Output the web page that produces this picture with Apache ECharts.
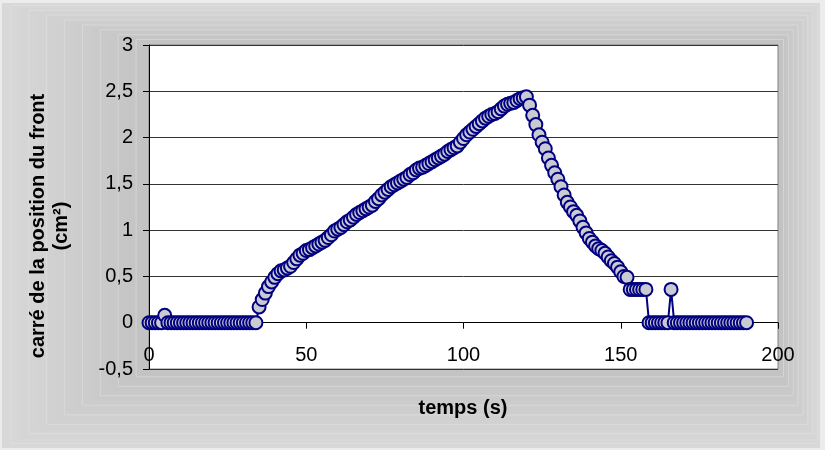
<!DOCTYPE html>
<html>
<head>
<meta charset="utf-8">
<script src="https://cdn.jsdelivr.net/npm/echarts@6/dist/echarts.min.js"></script>
<style>
  html, body { margin: 0; padding: 0; background: #fff; }
  #chart { width: 825px; height: 450px; }
</style>
</head>
<body>
<div id="chart"></div>
<script>
// temps (s)
const temps = [
  0, 1, 2, 3, 4, 5, 6, 7, 8, 9, 10, 11, 12, 13, 14, 15, 16, 17, 18, 19,
  20, 21, 22, 23, 24, 25, 26, 27, 28, 29, 30, 31, 32, 33, 34, 35, 36, 37, 38, 39,
  40, 41, 42, 43, 44, 45, 46, 47, 48, 49, 50, 51, 52, 53, 54, 55, 56, 57, 58, 59,
  60, 61, 62, 63, 64, 65, 66, 67, 68, 69, 70, 71, 72, 73, 74, 75, 76, 77, 78, 79,
  80, 81, 82, 83, 84, 85, 86, 87, 88, 89, 90, 91, 92, 93, 94, 95, 96, 97, 98, 99,
  100, 101, 102, 103, 104, 105, 106, 107, 108, 109, 110, 111, 112, 113, 114, 115, 116, 117, 118, 119,
  120, 121, 122, 123, 124, 125, 126, 127, 128, 129, 130, 131, 132, 133, 134, 135, 136, 137, 138, 139,
  140, 141, 142, 143, 144, 145, 146, 147, 148, 149, 150, 151, 152, 153, 154, 155, 156, 157, 158, 159,
  160, 161, 162, 163, 164, 165, 166, 167, 168, 169, 170, 171, 172, 173, 174, 175, 176, 177, 178, 179,
  180, 181, 182, 183, 184, 185, 186, 187, 188, 189, 190
];

// carré de la position du front (cm²)
const carre = [
  0, 0, 0, 0, 0, 0.08, 0, 0, 0, 0,
  0, 0, 0, 0, 0, 0, 0, 0, 0, 0,
  0, 0, 0, 0, 0, 0, 0, 0, 0, 0,
  0, 0, 0, 0, 0, 0.17, 0.25, 0.32, 0.39, 0.44,
  0.49, 0.53, 0.56, 0.57, 0.59, 0.61, 0.65, 0.69, 0.73, 0.75,
  0.78, 0.79, 0.81, 0.83, 0.85, 0.87, 0.89, 0.92, 0.95, 0.99,
  1.01, 1.03, 1.06, 1.09, 1.11, 1.14, 1.17, 1.19, 1.21, 1.23,
  1.25, 1.27, 1.31, 1.34, 1.38, 1.41, 1.44, 1.47, 1.49, 1.51,
  1.53, 1.55, 1.57, 1.60, 1.62, 1.65, 1.67, 1.68, 1.70, 1.72,
  1.74, 1.76, 1.78, 1.80, 1.82, 1.85, 1.87, 1.89, 1.91, 1.95,
  1.99, 2.03, 2.06, 2.09, 2.12, 2.15, 2.18, 2.21, 2.23, 2.25,
  2.26, 2.28, 2.31, 2.34, 2.36, 2.37, 2.38, 2.40, 2.42, 2.43,
  2.44, 2.35, 2.24, 2.14, 2.03, 1.95, 1.88, 1.78, 1.70, 1.62,
  1.55, 1.47, 1.38, 1.30, 1.25, 1.20, 1.16, 1.10, 1.03, 0.97,
  0.91, 0.87, 0.83, 0.80, 0.78, 0.75, 0.71, 0.67, 0.64, 0.60,
  0.55, 0.50, 0.49, 0.36, 0.36, 0.36, 0.36, 0.36, 0.36, 0,
  0, 0, 0, 0, 0, 0, 0.36, 0, 0, 0,
  0, 0, 0, 0, 0, 0, 0, 0, 0, 0,
  0, 0, 0, 0, 0, 0, 0, 0, 0, 0,
  0
];

const xTicks = [0, 50, 100, 150, 200];
const yTicks = [-0.5, 0, 0.5, 1, 1.5, 2, 2.5, 3];

const chart = echarts.init(document.getElementById('chart'));

// fond gris en dégradé (rectangles emboîtés, style Excel)
const fond = [{
  type: 'rect', z: -10, silent: true,
  shape: { x: 0, y: 0, width: 825, height: 450 },
  style: { fill: '#ececec' }
}];
const nb = 16;
for (let i = 0; i < nb; i++) {
  const f = i / nb;
  const x0 = 2 + f * 143, y0 = 3 + f * 39;
  const x1 = 820 - f * 39, y1 = 448 - f * 76;
  const g = Math.round(0xd8 - f * 0x16);
  fond.push({
    type: 'rect', z: -10 + i * 0.01, silent: true,
    shape: { x: x0, y: y0, width: x1 - x0, height: y1 - y0 },
    style: { fill: 'rgb(' + g + ',' + g + ',' + g + ')', stroke: i % 2 ? 'rgba(230,230,230,0.5)' : null, lineWidth: 1 }
  });
}

const option = {
  animation: false,
  backgroundColor: '#fff',
  textStyle: { fontFamily: 'Liberation Sans, Arial, sans-serif' },
  graphic: fond.concat([
    {
      type: 'text', x: 50, y: 226, rotation: Math.PI / 2,
      style: {
        text: 'carré de la position du front\n(cm²)',
        align: 'center', verticalAlign: 'middle',
        font: 'bold 20px "Liberation Sans", Arial, sans-serif',
        fill: '#000', lineHeight: 23
      }
    },
    {
      type: 'text', x: 463, y: 408,
      style: {
        text: 'temps (s)',
        align: 'center', verticalAlign: 'middle',
        font: 'bold 20px "Liberation Sans", Arial, sans-serif',
        fill: '#000'
      }
    }
  ]),
  grid: {
    left: 149, right: 47, top: 45, bottom: 81,
    show: true, backgroundColor: '#fff',
    borderColor: '#808080', borderWidth: 1
  },
  xAxis: {
    type: 'value',
    min: xTicks[0], max: xTicks[xTicks.length - 1], interval: 50,
    axisLine: { show: true, onZero: true, lineStyle: { color: '#000', width: 1 } },
    axisTick: { show: true, length: 6, lineStyle: { color: '#000' } },
    axisLabel: { margin: -24, fontSize: 20, color: '#000' },
    splitLine: { show: false }
  },
  yAxis: {
    type: 'value',
    min: yTicks[0], max: yTicks[yTicks.length - 1], interval: 0.5,
    axisLine: { show: true, lineStyle: { color: '#000', width: 1 } },
    axisTick: { show: true, length: 6, lineStyle: { color: '#000' } },
    axisLabel: {
      margin: 16, fontSize: 20, color: '#000',
      formatter: v => String(v).replace('.', ',')
    },
    splitLine: { show: true, lineStyle: { color: '#333', width: 1 } }
  },
  series: [{
    type: 'line',
    data: temps.map((t, i) => [t, carre[i]]),
    symbol: 'circle',
    symbolSize: 13,
    showAllSymbol: true,
    clip: false,
    lineStyle: { color: '#000080', width: 2 },
    itemStyle: { color: '#cacad2', borderColor: '#000080', borderWidth: 2 }
  }]
};

chart.setOption(option);
</script>
</body>
</html>
